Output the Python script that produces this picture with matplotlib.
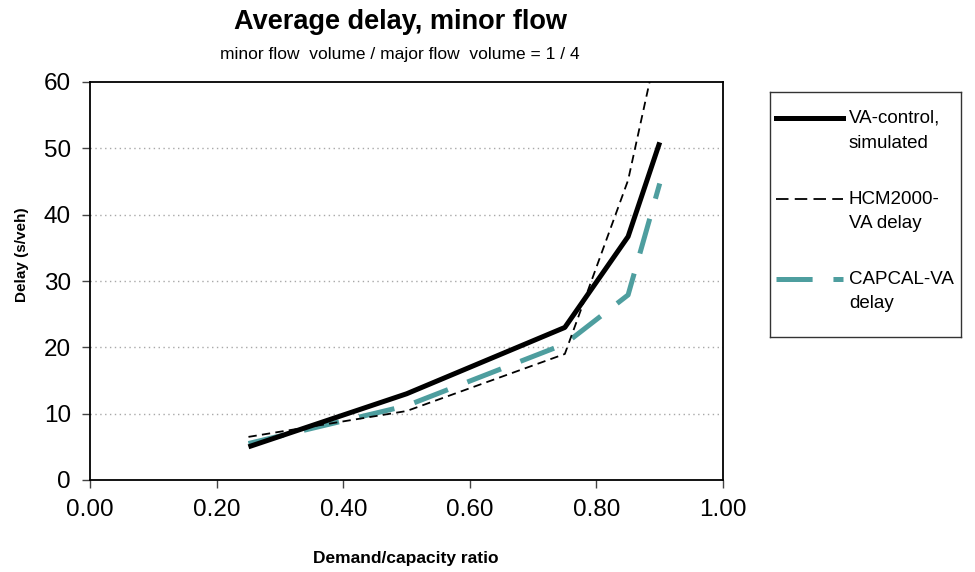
import matplotlib
matplotlib.use("Agg")
import matplotlib.pyplot as plt
from matplotlib.lines import Line2D

plt.rcParams['font.family'] = ['Liberation Sans', 'DejaVu Sans']
plt.rcParams['lines.scale_dashes'] = False

# Data
ratio = [0.25, 0.50, 0.75, 0.85, 0.90]
va_control = [5.0, 13.0, 23.0, 36.7, 50.9]
hcm2000 = [6.5, 10.4, 19.0, 45.2, 67.0]
capcal = [5.5, 11.2, 20.5, 27.9, 44.7]

series_labels = ["VA-control,\nsimulated", "HCM2000-\nVA delay", "CAPCAL-VA\ndelay"]
x_ticks = [0.0, 0.2, 0.4, 0.6, 0.8, 1.0]
y_ticks = [0, 10, 20, 30, 40, 50, 60]

teal = '#4e9e9f'
hcm_dash = (6.0, 3.8)

fig = plt.figure(figsize=(9.75, 5.72), dpi=100)
ax = fig.add_axes([90.3/975, 1-480/572, (723-90.3)/975, (480-82)/572])

ax.set_xlim(0, 1.0)
ax.set_ylim(0, 60)
for yv in y_ticks[1:-1]:
    ax.axhline(yv, color='#a8a8a8', lw=1.0, ls=(0, (1, 2.5)), zorder=0)

ax.plot(ratio, va_control, color='black', lw=3.6, solid_capstyle='butt', zorder=3)
ax.plot(ratio, hcm2000, color='black', lw=1.3, dashes=hcm_dash, zorder=4)
ax.plot(ratio, capcal, color=teal, lw=3.6, dashes=(26, 15), dash_capstyle='butt', zorder=2)

ax.set_xticks(x_ticks)
ax.set_xticklabels([f"{v:.2f}" for v in x_ticks])
ax.set_yticks(y_ticks)
ax.set_yticklabels([str(v) for v in y_ticks])
ax.tick_params(axis='both', direction='out', length=6, width=1, color='#444444',
               labelsize=17.5, pad=8)
for s in ax.spines.values():
    s.set_linewidth(1.3)
    s.set_color('black')

fig.text(400/975, 1-22/572, "Average delay, minor flow", ha='center', va='center',
         fontsize=19.5, fontweight='bold')
fig.text(400/975, 1-54/572, "minor flow  volume / major flow  volume = 1 / 4",
         ha='center', va='center', fontsize=12.5)
fig.text(406/975, 1-559/572, "Demand/capacity ratio", ha='center', va='center',
         fontsize=12.5, fontweight='bold')
fig.text(22/975, 1-255/572, "Delay (s/veh)", ha='center', va='center',
         rotation=90, fontsize=11, fontweight='bold')

# Legend box
lg = fig.add_axes([770/975, 1-337/572, 191/975, 245/572])
lg.set_xlim(770, 961)
lg.set_ylim(337, 92)
lg.set_xticks([])
lg.set_yticks([])
for s in lg.spines.values():
    s.set_linewidth(1.0)
    s.set_color('#333333')

handles = [
    dict(color='black', lw=3.6, ls='-'),
    dict(color='black', lw=1.3, dashes=(9, 4.5)),
    dict(color=teal, lw=3.6, dashes=(26, 15), dash_capstyle='butt'),
]
ypos = [118, 199, 279]
for h, lab, yy in zip(handles, series_labels, ypos):
    lg.add_line(Line2D([776, 843], [yy, yy], **h))
    first, second = lab.split("\n")
    lg.text(849, yy, first, ha='left', va='center', fontsize=13.5)
    lg.text(849, yy + 25, second, ha='left', va='center', fontsize=13.5)

fig.savefig("out.png", dpi=100)
